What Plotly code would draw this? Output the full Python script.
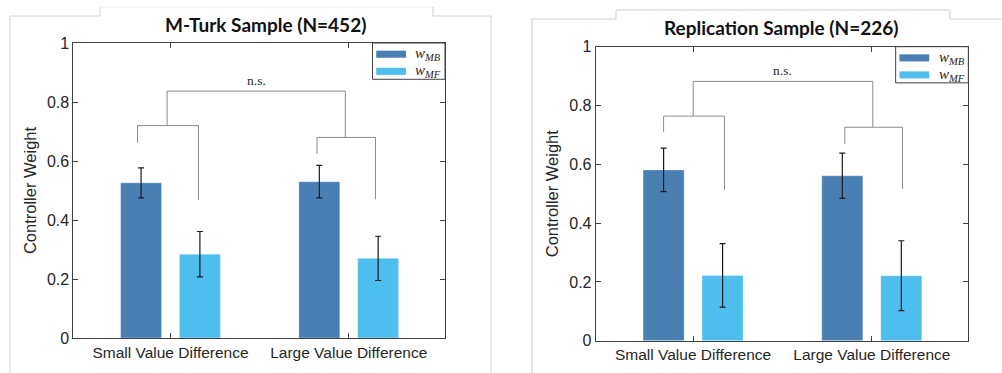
import plotly.graph_objects as go

# ---------------- data ----------------
categories = ["Small Value Difference", "Large Value Difference"]
cat_pos = [1, 2]

mturk_mb = [0.526, 0.530]
mturk_mb_err = [0.051, 0.055]
mturk_mf = [0.284, 0.270]
mturk_mf_err = [0.077, 0.075]

rep_mb = [0.581, 0.561]
rep_mb_err = [0.074, 0.077]
rep_mf = [0.222, 0.221]
rep_mf_err = [0.108, 0.119]

y_ticks = [0, 0.2, 0.4, 0.6, 0.8, 1]
y_ticktext = ["0", "0.2", "0.4", "0.6", "0.8", "1"]

titles = ["M-Turk Sample (N=452)", "Replication Sample (N=226)"]
series_names = ["<i>w</i><sub><i>MB</i></sub>", "<i>w</i><sub><i>MF</i></sub>"]

# significance brackets: (left leg x, right leg x, bar y, left leg bottom, right leg bottom)
mturk_brackets = [(0.815, 1.157, 0.720, 0.662, 0.468),
                  (1.822, 2.150, 0.680, 0.624, 0.470)]
mturk_top = 0.837
rep_brackets = [(0.835, 1.176, 0.764, 0.709, 0.513),
                (1.849, 2.172, 0.726, 0.669, 0.516)]
rep_top = 0.882
sig_label = "n.s."

# ---------------- style ----------------
C_MB = "#4a7fb4"
C_MF = "#4dbeee"
AX = "#404040"
BR = "#8c8c8c"
FONT = "Liberation Sans, Arial, Helvetica, sans-serif"
SERIF = "Liberation Serif, DejaVu Serif, serif"

fig = go.Figure()

panels = [
    dict(mb=mturk_mb, mbe=mturk_mb_err, mf=mturk_mf, mfe=mturk_mf_err,
         xa="x", ya="y", br=mturk_brackets, top=mturk_top,
         xdom=[0.0732, 0.4441], ydom=[0.0938, 0.8847]),
    dict(mb=rep_mb, mbe=rep_mb_err, mf=rep_mf, mfe=rep_mf_err,
         xa="x2", ya="y2", br=rep_brackets, top=rep_top,
         xdom=[0.5945, 0.9664], ydom=[0.0866, 0.8748]),
]

for i, p in enumerate(panels):
    for vals, errs, col, name in [(p["mb"], p["mbe"], C_MB, series_names[0]),
                                  (p["mf"], p["mfe"], C_MF, series_names[1])]:
        fig.add_trace(go.Bar(
            x=cat_pos, y=vals, name=name, xaxis=p["xa"], yaxis=p["ya"],
            marker=dict(color=col, line=dict(color="rgba(255,255,255,0.35)", width=1)),
            error_y=dict(type="data", array=errs, color="#1a1a1a", thickness=1.2, width=3),
            showlegend=False, offsetgroup=name, hoverinfo="skip",
        ))

layout_axes = {}
for i, p in enumerate(panels):
    sx = "" if i == 0 else "2"
    layout_axes["xaxis" + sx] = dict(
        domain=p["xdom"], range=[0.455, 2.54], tickvals=cat_pos, ticktext=categories,
        ticks="inside", ticklen=5, tickcolor=AX, showline=True, linecolor=AX, linewidth=1,
        mirror="ticks", showgrid=False, zeroline=False, anchor="y" + sx, automargin=False,
        tickfont=dict(family=FONT, size=15.5, color="#262626"), fixedrange=True,
    )
    layout_axes["yaxis" + sx] = dict(
        domain=p["ydom"], range=[0, 1], tickvals=y_ticks, ticktext=y_ticktext,
        ticks="inside", ticklen=5, tickcolor=AX, showline=True, linecolor=AX, linewidth=1,
        mirror="ticks", showgrid=False, zeroline=False, anchor="x" + sx, automargin=False,
        tickfont=dict(family=FONT, size=16, color="#262626"),
        title=dict(text="Controller Weight", font=dict(family=FONT, size=16.5, color="#262626"),
                   standoff=6),
        fixedrange=True,
    )

shapes = []
annotations = []
for i, p in enumerate(panels):
    xr, yr = p["xa"], p["ya"]
    centers = []
    for (xl, xrr, yb, yl, yrr) in p["br"]:
        xc = (xl + xrr) / 2 - 0.005
        centers.append(xc)
        shapes.append(dict(type="path", xref=xr, yref=yr,
                           path=f"M {xl},{yl} L {xl},{yb} L {xrr},{yb} L {xrr},{yrr}",
                           line=dict(color=BR, width=1)))
    shapes.append(dict(type="path", xref=xr, yref=yr,
                       path=(f"M {centers[0]},{p['br'][0][2]} L {centers[0]},{p['top']} "
                             f"L {centers[1]},{p['top']} L {centers[1]},{p['br'][1][2]}"),
                       line=dict(color=BR, width=1)))
    annotations.append(dict(x=(centers[0] + centers[1]) / 2, y=p["top"], xref=xr, yref=yr,
                            text=sig_label, showarrow=False, xanchor="center",
                            yanchor="bottom", yshift=1,
                            font=dict(family=SERIF, size=13.5, color="#262626")))
    # legend box (in axis-domain coordinates)
    dx, dy = xr + " domain", yr + " domain"
    shapes.append(dict(type="rect", xref=dx, yref=dy, x0=0.805, x1=1.0, y0=0.877, y1=1.0,
                       line=dict(color=AX, width=1), fillcolor="white"))
    for k, (col, nm) in enumerate([(C_MB, series_names[0]), (C_MF, series_names[1])]):
        yc = 0.962 - k * 0.058
        shapes.append(dict(type="rect", xref=dx, yref=dy, x0=0.815, x1=0.895,
                           y0=yc - 0.012, y1=yc + 0.012, line=dict(width=0), fillcolor=col))
        annotations.append(dict(x=0.915, y=yc, xref=dx, yref=dy, text=nm, showarrow=False,
                                xanchor="left", yanchor="middle",
                                font=dict(family=SERIF, size=15, color="#262626")))

# titles
TFONT = dict(family="Lato, Open Sans, sans-serif", size=19, color="#111")
annotations.append(dict(x=0.2645, y=0.933, xref="paper", yref="paper", text=f"<b>{titles[0]}</b>",
                        showarrow=False, xanchor="center", yanchor="middle", font=TFONT))
annotations.append(dict(x=0.780, y=0.925, xref="paper", yref="paper", text=f"<b>{titles[1]}</b>",
                        showarrow=False, xanchor="center", yanchor="middle", font=TFONT))

# decorative frame lines (pixel -> paper)
W, H = 1002, 373
def px(x):
    return x / W
def py(y):
    return 1 - y / H
frame = [
    # left panel
    (10, 16, 100, 16, "#d4d4d4"), (100, 16, 100, 7, "#d4d4d4"), (100, 7, 433, 7, "#efefef"),
    (433, 7, 433, 16, "#d4d4d4"), (433, 16, 491, 16, "#d4d4d4"),
    (10, 16, 10, 373, "#d4d4d4"), (491, 16, 491, 373, "#d4d4d4"),
    # right panel
    (532, 19, 616, 19, "#cfcfcf"), (616, 19, 616, 10, "#cfcfcf"), (616, 10, 950, 10, "#cfcfcf"),
    (950, 10, 950, 19, "#cfcfcf"), (950, 19, 1002, 19, "#cfcfcf"),
    (532, 19, 532, 373, "#c8c8c8"),
]
for (x0, y0, x1, y1, c) in frame:
    shapes.append(dict(type="line", xref="paper", yref="paper", x0=px(x0), y0=py(y0),
                       x1=px(x1), y1=py(y1), line=dict(color=c, width=1), layer="below"))

fig.update_layout(
    width=W, height=H, margin=dict(l=0, r=0, t=0, b=0, autoexpand=False),
    paper_bgcolor="white", plot_bgcolor="white",
    barmode="group", bargap=0.34, bargroupgap=0.303,
    shapes=shapes, annotations=annotations, showlegend=False, hovermode=False,
    **layout_axes,
)

fig.write_html("out.html", config={"displayModeBar": False},
               post_script="document.body.style.margin='0';document.body.style.overflow='hidden';")
